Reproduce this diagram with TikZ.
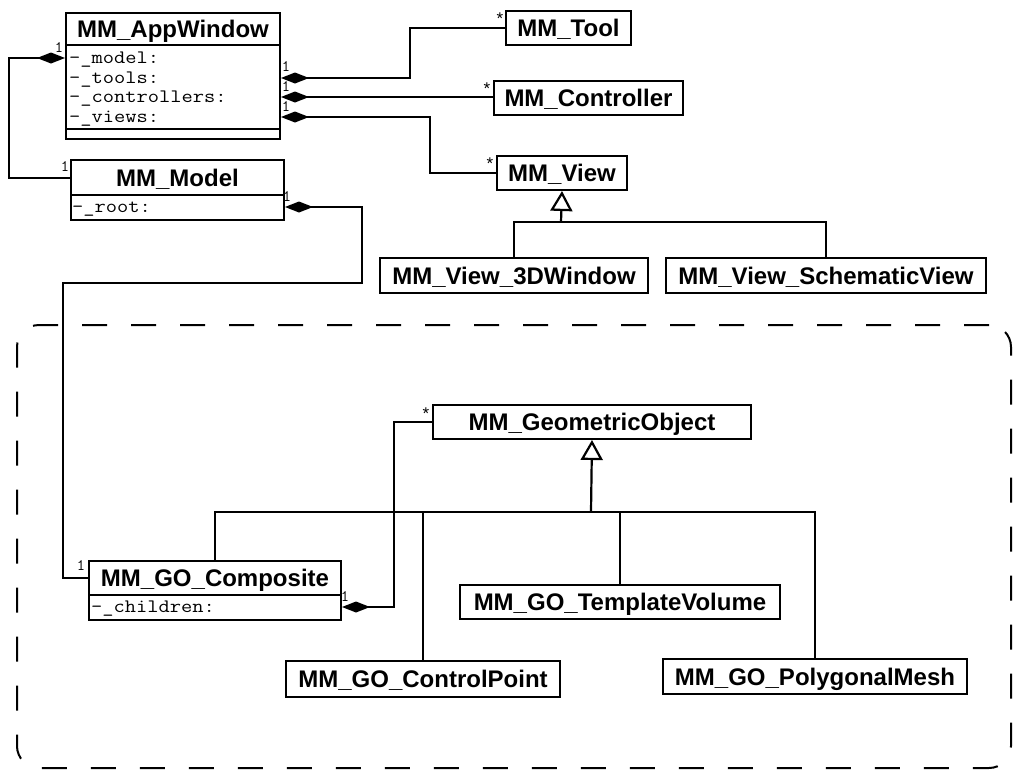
\documentclass[tikz,border=0pt]{standalone}
\usepackage{fontspec}
\setmainfont{Liberation Sans}
\newfontfamily\attrfont{Latin Modern Mono}[FakeStretch=1.15]
\usetikzlibrary{arrows.meta}
\begin{document}
\begin{tikzpicture}[x=1pt,y=-1pt,
  box/.style={draw, line width=2pt, anchor=north west, inner sep=0pt,
    font=\fontsize{24}{26}\selectfont\bfseries, text height=17.2pt, text depth=0pt},
  compart/.style={draw, line width=2pt, anchor=north west, inner sep=0pt},
  attr/.style={anchor=west, inner sep=0pt, font=\fontsize{19}{20}\selectfont\attrfont,
    text height=10pt, text depth=0pt},
  mult/.style={inner sep=0pt, font=\fontsize{16}{16}\selectfont\ttfamily},
  star/.style={inner sep=0pt, font=\fontsize{17}{17}\selectfont},
  conn/.style={line width=2pt},
  comp/.style={conn, {Diamond[length=28pt,width=11pt,fill=black]}-},
  inh/.style={line width=2.2pt, -{Triangle[length=20pt,width=22pt,fill=white]}},
  group/.style={draw, line width=2pt, dash pattern=on 25pt off 24pt, rounded corners=22pt,
    anchor=north west, inner sep=0pt}
]
\useasboundingbox (0,0) rectangle (1013,772);

% package frame
\node[group, minimum width=994pt, minimum height=443pt] (pkg) at (16,324) {};

% classes
\node[box, minimum width=214pt, minimum height=32pt] (app) at (65,12) {MM\_AppWindow};
\node[compart, minimum width=214pt, minimum height=84pt] (appattr) at (65,44) {};
\node[compart, minimum width=214pt, minimum height=10pt] (appops) at (65,128) {};
\node[attr] (amodel) at (69,58) {-\_model:};
\node[attr] (atools) at (69,78) {-\_tools:};
\node[attr] (actrl) at (69,97) {-\_controllers:};
\node[attr] (aviews) at (69,117) {-\_views:};

\node[box, minimum width=213pt, minimum height=35pt] (model) at (70,159) {MM\_Model};
\node[compart, minimum width=213pt, minimum height=25pt] (modelattr) at (70,194) {};
\node[attr] (aroot) at (72,207) {-\_root:};

\node[box, minimum width=125pt, minimum height=34pt] (tool) at (505,10) {MM\_Tool};
\node[box, minimum width=189pt, minimum height=34pt] (ctrl) at (493,80) {MM\_Controller};
\node[box, minimum width=130pt, minimum height=34pt] (view) at (496,155) {MM\_View};
\node[box, minimum width=268pt, minimum height=35pt] (v3d) at (379,257) {MM\_View\_3DWindow};
\node[box, minimum width=320pt, minimum height=35pt] (vsch) at (665,257) {MM\_View\_SchematicView};

\node[box, minimum width=318pt, minimum height=34pt] (geo) at (432,404) {MM\_GeometricObject};
\node[box, minimum width=252pt, minimum height=34pt] (comp) at (88,560) {MM\_GO\_Composite};
\node[compart, minimum width=252pt, minimum height=25pt] (compattr) at (88,594) {};
\node[attr] (achildren) at (91,607) {-\_children:};
\node[box, minimum width=320pt, minimum height=34pt] (tmpl) at (459,584) {MM\_GO\_TemplateVolume};
\node[box, minimum width=274pt, minimum height=36pt] (cpt) at (285,660) {MM\_GO\_ControlPoint};
\node[box, minimum width=304pt, minimum height=35pt] (poly) at (662,658) {MM\_GO\_PolygonalMesh};

% bend coordinates
\coordinate (bx1) at (410,0);
\coordinate (bx2) at (430,0);
\coordinate (bx3) at (9,0);
\coordinate (bx4) at (394,0);
\coordinate (r1) at (362,283);
\coordinate (r2) at (63,283);
\coordinate (vbar) at (561,222);
\coordinate (gbar) at (591,512);

% compositions
\draw[comp] (appattr.east |- atools) -- (atools -| bx1) |- (tool.west);
\draw[comp] (appattr.east |- actrl) -- (ctrl.west |- actrl);
\draw[comp] (appattr.east |- aviews) -- (aviews -| bx2) |- (view.west);
\draw[comp] (appattr.west |- amodel) -- (amodel -| bx3) |- (model.west);
\draw[comp] (modelattr.east |- aroot) -| (r1) -- (r2) |- (comp.west);
\draw[comp] (compattr.east |- achildren) -- (achildren -| bx4) |- (geo.west);

% generalisations
\draw[conn] (v3d.north) |- (vbar) -| (vsch.north);
\draw[inh] (vbar) -- (view.south);
\draw[conn] (comp.north) |- (gbar) -| (poly.north);
\draw[conn] (cpt.north) -- (cpt.north |- gbar);
\draw[conn] (tmpl.north) -- (tmpl.north |- gbar);
\draw[inh] (gbar) -- (geo.south);

% multiplicities
\node[mult] (m1) at (59,48) {1};
\node[mult] (m2) at (65,167) {1};
\node[mult] (m3) at (286,67) {1};
\node[mult] (m4) at (286,87) {1};
\node[mult] (m5) at (286,107) {1};
\node[mult] (m6) at (287,197) {1};
\node[mult] (m7) at (81,566) {1};
\node[mult] (m8) at (345,597) {1};
\node[star] (s1) at (500,19) {*};
\node[star] (s2) at (487,89) {*};
\node[star] (s3) at (490,164) {*};
\node[star] (s4) at (426,414) {*};
\end{tikzpicture}
\end{document}
